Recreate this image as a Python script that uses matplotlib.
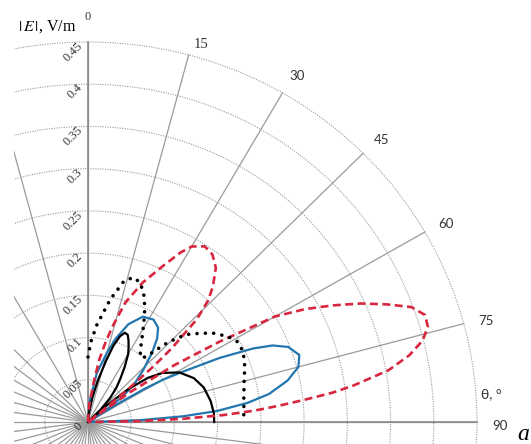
import numpy as np
import matplotlib
matplotlib.use("Agg")
import matplotlib.pyplot as plt
from matplotlib.transforms import offset_copy
from matplotlib.patches import Rectangle

plt.rcParams["mathtext.fontset"] = "stix"

# radial scale and angle marks
r_ticks = [0, 0.05, 0.1, 0.15, 0.2, 0.25, 0.3, 0.35, 0.4, 0.45]
r_labels = ["0", "0.05", "0.1", "0.15", "0.2", "0.25", "0.3", "0.35", "0.4", "0.45"]
theta_ticks = [0, 15, 30, 45, 60, 75, 90]

# |E|(theta), theta in degrees, |E| in V/m
th_black = [0, 5, 10, 13, 16, 18, 20, 22, 24, 26, 28, 30, 33, 36, 39, 42, 45, 47,
            48, 50, 53, 56, 61, 67, 73, 80, 86, 90]
r_black = [0, 0.01, 0.03, 0.05, 0.075, 0.095, 0.108, 0.114, 0.113, 0.107, 0.1, 0.093,
           0.078, 0.064, 0.052, 0.038, 0.02, 0,
           0.03, 0.06, 0.087, 0.104, 0.121, 0.133, 0.14, 0.144, 0.146, 0.146]

th_dot = [0, 2, 5, 10, 14, 17, 20, 23, 26, 29, 32, 35, 38, 40, 42, 44, 46, 48, 51,
          54, 58, 61, 65, 70, 75, 80, 85, 90]
r_dot = [0.077, 0.095, 0.115, 0.147, 0.172, 0.179, 0.176, 0.165, 0.15, 0.133, 0.118,
         0.106, 0.098, 0.099, 0.11, 0.128, 0.143, 0.155, 0.167, 0.179, 0.191, 0.197,
         0.198, 0.193, 0.187, 0.183, 0.181, 0.18]

th_red = [0, 4, 8, 10, 12, 14, 17, 21, 25, 28, 30, 33, 36, 39, 42, 44, 46, 48, 49,
          50, 51, 52,
          54, 56, 58, 60, 62, 64, 66, 68, 70, 72, 74, 76, 78, 80, 82, 83, 84, 85, 86,
          87, 88, 89, 90]
r_red = [0, 0.02, 0.048, 0.075, 0.095, 0.116, 0.148, 0.177, 0.203, 0.227, 0.24, 0.248,
         0.245, 0.235, 0.216, 0.2, 0.175, 0.13, 0.1, 0.06, 0.02, 0,
         0.06, 0.12, 0.18, 0.25, 0.285, 0.315, 0.345, 0.372, 0.398, 0.41, 0.409, 0.399,
         0.38, 0.353, 0.31, 0.285, 0.252, 0.222, 0.193, 0.157, 0.11, 0.06, 0]

th_blue = [0, 5, 10, 15, 18, 22, 27, 32, 36, 39, 42, 46, 50, 53, 55, 57,
           58, 59, 60, 61.5, 63.5, 65.5, 67, 69, 72, 75, 78, 81, 83, 85, 86.5, 88, 90]
r_blue = [0, 0.026, 0.059, 0.085, 0.104, 0.125, 0.14, 0.143, 0.138, 0.127, 0.111,
          0.089, 0.07, 0.05, 0.03, 0,
          0.04, 0.075, 0.1, 0.125, 0.17, 0.21, 0.232, 0.248, 0.257, 0.252, 0.236,
          0.212, 0.186, 0.15, 0.11, 0.06, 0]

W, H = 531, 444
cx, cy = 88, 422          # pole position, px from top-left
rx, ry = 389, 380         # px of r = 0.45 along x and y

fig = plt.figure(figsize=(W / 100, H / 100), dpi=100)
ax = fig.add_axes([(cx - rx) / W, (H - cy - ry) / H, 2 * rx / W, 2 * ry / H],
                  projection="polar")
ax.set_aspect("auto")
ax.set_theta_zero_location("N")
ax.set_theta_direction(-1)
ax.set_ylim(0, 0.45)
ax.grid(False)
ax.set_xticks([])
ax.set_yticks([])
ax.spines["polar"].set_visible(False)

# grid: dotted circles, solid spokes
full = np.linspace(0, 2 * np.pi, 721)
for r in r_ticks[1:]:
    ax.plot(full, np.full_like(full, r), color="#9a9a9a", lw=0.8,
            ls=(0, (1, 1.2)), clip_on=False, zorder=1)
spokes = list(np.arange(0, 360, 15)) + list(np.arange(97.5, 315, 15))
for a in spokes:
    ax.plot([np.radians(a)] * 2, [0, 0.45], color="#9a9a9a", lw=0.9,
            clip_on=False, zorder=1)
for a in (0, 90):
    ax.plot([np.radians(a)] * 2, [0, 0.45], color="#8a8a8a", lw=1.2,
            clip_on=False, zorder=1)

# curves
ax.plot(np.radians(th_blue), r_blue, color="#2176ae", lw=1.6, zorder=3, clip_on=False)
ax.plot(np.radians(th_black), r_black, color="black", lw=1.6, zorder=4, clip_on=False)
ax.plot(np.radians(th_red), r_red, color="#d7263d", lw=1.9, dashes=(3, 1.7),
        zorder=5, clip_on=False)
ax.plot(np.radians(th_dot), r_dot, color="black", lw=2.6, ls=(0, (0.01, 2.3)),
        dash_capstyle="round", zorder=6, clip_on=False)

# radial value labels along the 0 spoke
tr = offset_copy(ax.transData, fig=fig, x=-7, y=-2, units="dots")
for r, lab in zip(r_ticks, r_labels):
    ax.text(0, r, lab, transform=tr, rotation=45, rotation_mode="anchor",
            ha="right", va="center", fontsize=9, family="Liberation Serif",
            color="#333333")

# angle labels
for t in theta_ticks:
    fam = "Liberation Serif" if t < 30 else "Lato"
    rr = 0.48 if t == 0 else (0.466 if t == 15 else 0.476)
    tt = t + (1.3 if t == 15 else 0.5 if t else 0)
    fs = 9 if t == 0 else 10.5 if t == 15 else 9.5
    ax.text(np.radians(tt), rr, str(t), ha="center", va="center", fontsize=fs,
            family=fam, color="#333333")

# hide the part of the grid left of the frame
fig.add_artist(Rectangle((0, 0), 14 / W, 1, transform=fig.transFigure,
                         facecolor="white", edgecolor="none", zorder=10))

fig.text(47 / W, 1 - 27 / H, r"$|\,E\,|$, V/m", ha="center", va="center",
         fontsize=11.5, family="Liberation Serif", zorder=11)
fig.text(491 / W, 1 - 394 / H, "θ, °", ha="center", va="center", fontsize=10,
         family="Lato", color="#333333", zorder=11)
fig.text(523 / W, 1 - 434 / H, "a", ha="center", va="center", fontsize=17,
         family="Liberation Serif", style="italic", zorder=11)

fig.savefig("out.png", dpi=100)
